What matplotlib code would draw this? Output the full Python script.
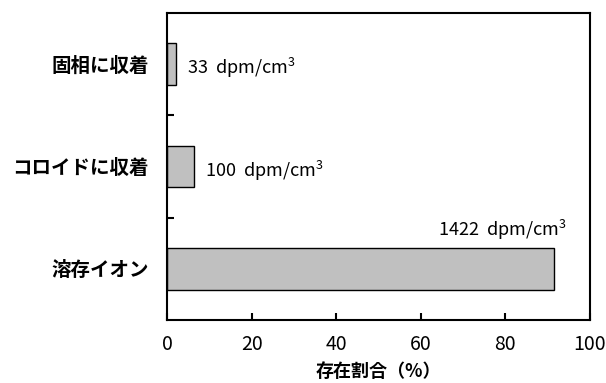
import matplotlib
matplotlib.use("Agg")
import matplotlib.pyplot as plt
from matplotlib.ticker import FixedLocator

plt.rcParams['font.family'] = ['Noto Sans CJK JP', 'DejaVu Sans']
plt.rcParams['mathtext.fontset'] = 'custom'
plt.rcParams['mathtext.rm'] = 'Noto Sans CJK JP'
plt.rcParams['mathtext.it'] = 'Noto Sans CJK JP'
plt.rcParams['mathtext.bf'] = 'Noto Sans CJK JP:bold'
plt.rcParams['mathtext.default'] = 'rm'

categories = ['溶存イオン', 'コロイドに収着', '固相に収着']
activity = [1422, 100, 33]  # dpm/cm3
total = sum(activity)
percent = [a / total * 100 for a in activity]
labels = [f'{a}  dpm/cm$^{{3}}$' for a in activity]
xticks = [0, 20, 40, 60, 80, 100]

fig = plt.figure(figsize=(6.06, 3.83), dpi=100)
ax = fig.add_axes([167/606, 1 - 320/383, (590-167)/606, (320-13)/383])

ypos = list(range(len(categories)))
ax.barh(ypos, percent, height=0.41, color='#c0c0c0', edgecolor='black', linewidth=1.0)

ax.set_xlim(0, 100)
ax.set_ylim(-0.5, len(categories) - 0.5)
ax.set_xticks(xticks)
ax.set_xticklabels([str(t) for t in xticks], fontsize=14)
ax.set_yticks(ypos)
ax.set_yticklabels(categories, fontsize=14, fontweight='bold')
ax.yaxis.set_minor_locator(FixedLocator([0.5, 1.5]))

ax.tick_params(axis='x', direction='in', length=5, width=1.5, pad=10)
ax.tick_params(axis='y', which='major', length=0, pad=13)
ax.tick_params(axis='y', which='minor', direction='in', length=5, width=1.5)

for s in ax.spines.values():
    s.set_linewidth(1.5)

for i, (p, lab) in enumerate(zip(percent, labels)):
    if p > 50:
        ax.annotate(lab, xy=(p, i + 0.205), xytext=(9, 4), textcoords='offset points',
                    ha='right', va='bottom', fontsize=13)
    else:
        ax.annotate(lab, xy=(p, i), xytext=(8, -3), textcoords='offset points',
                    ha='left', va='center', fontsize=13)

ax.set_xlabel('存在割合（%）', fontsize=13, fontweight='bold', labelpad=5)

fig.savefig('out.png', dpi=100)
